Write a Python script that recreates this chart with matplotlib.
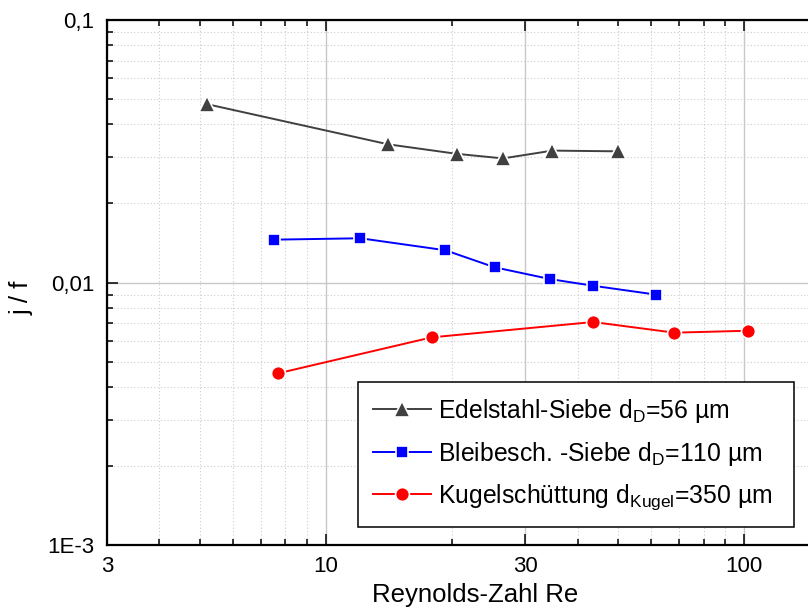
import matplotlib
matplotlib.use("Agg")
import matplotlib.pyplot as plt
from matplotlib.ticker import FixedLocator, FixedFormatter, NullFormatter

plt.rcParams['font.family'] = ['Liberation Sans', 'DejaVu Sans']
plt.rcParams['mathtext.fontset'] = 'custom'
plt.rcParams['mathtext.rm'] = 'Liberation Sans'
plt.rcParams['mathtext.it'] = 'Liberation Sans:italic'

# Edelstahl-Siebe, d_D = 56 um
re_edel = [5.2, 14.1, 20.6, 26.5, 34.8, 50.0]
jf_edel = [0.0478, 0.0336, 0.0309, 0.0297, 0.0318, 0.0316]

# Bleibeschichtete Siebe, d_D = 110 um
re_blei = [7.5, 12.1, 19.3, 25.3, 34.4, 43.5, 61.6]
jf_blei = [0.01456, 0.01474, 0.01327, 0.01143, 0.0103, 0.00972, 0.00899]

# Kugelschuettung, d_Kugel = 350 um
re_kugel = [7.7, 17.9, 43.5, 68.1, 101.9]
jf_kugel = [0.00451, 0.00618, 0.00707, 0.00644, 0.00655]

labels = [r'Edelstahl-Siebe d$_\mathrm{D}$=56 µm',
          r'Bleibesch. -Siebe d$_\mathrm{D}$=110 µm',
          r'Kugelschüttung d$_\mathrm{Kugel}$=350 µm']

x_major = [3, 10, 30, 100]
x_major_labels = ['3', '10', '30', '100']
x_minor = [4, 5, 6, 7, 8, 9, 20, 40, 50, 60, 70, 80, 90]
y_major = [0.001, 0.01, 0.1]
y_major_labels = ['1E-3', '0,01', '0,1']
y_minor = [k * 1e-3 for k in range(2, 10)] + [k * 1e-2 for k in range(2, 10)]

fig = plt.figure(figsize=(8.08, 6.16), dpi=100)
# right edge of the axes runs past the canvas
ax = fig.add_axes([107 / 808, 71 / 616, 711 / 808, 525 / 616])

ax.set_xscale('log')
ax.set_yscale('log')
ax.set_xlim(3, 150)
ax.set_ylim(1e-3, 0.1)

mk = dict(markeredgecolor='white', markeredgewidth=1.2, linewidth=1.4)
ax.plot(re_edel, jf_edel, color='#404040', marker='^', markersize=12, label=labels[0], **mk)
ax.plot(re_blei, jf_blei, color='#0000ff', marker='s', markersize=9, label=labels[1], **mk)
ax.plot(re_kugel, jf_kugel, color='#ff0000', marker='o', markersize=10, label=labels[2], **mk)

ax.xaxis.set_major_locator(FixedLocator(x_major))
ax.xaxis.set_major_formatter(FixedFormatter(x_major_labels))
ax.xaxis.set_minor_locator(FixedLocator(x_minor))
ax.xaxis.set_minor_formatter(NullFormatter())
ax.yaxis.set_major_locator(FixedLocator(y_major))
ax.yaxis.set_major_formatter(FixedFormatter(y_major_labels))
ax.yaxis.set_minor_locator(FixedLocator(y_minor))
ax.yaxis.set_minor_formatter(NullFormatter())

ax.grid(which='major', color='#c8c8c8', linestyle='-', linewidth=1.0)
ax.grid(which='minor', color='#cccccc', linestyle=(0, (1, 2)), linewidth=0.8)
ax.set_axisbelow(True)

ax.tick_params(which='both', direction='in', top=True, right=False, labelsize=16, width=1.1)
ax.tick_params(which='major', length=8)
ax.tick_params(which='minor', length=4.5)
ax.tick_params(axis='x', which='major', pad=8)
ax.tick_params(axis='y', which='major', pad=9)
for side in ['left', 'bottom', 'top']:
    ax.spines[side].set_linewidth(1.6)
ax.spines['right'].set_visible(False)

ax.set_xlabel('Reynolds-Zahl Re', fontsize=18.5)
ax.set_ylabel('j / f', fontsize=18.5)
ax.xaxis.set_label_coords(0.518, -0.073)
ax.yaxis.set_label_coords(-0.103, 0.47)

# legend box spans a fixed width in the lower right of the plot
leg = ax.legend(loc='upper left', bbox_to_anchor=(0.353, 0.0324, 0.613, 0.2781),
                mode='expand', borderaxespad=0,
                fontsize=17.8, frameon=True, fancybox=False, edgecolor='black',
                framealpha=1, numpoints=1, handlelength=2.35, handletextpad=0.3,
                labelspacing=0.6, borderpad=0.6)
leg.get_frame().set_linewidth(1.1)

fig.savefig('out.png', dpi=100)
